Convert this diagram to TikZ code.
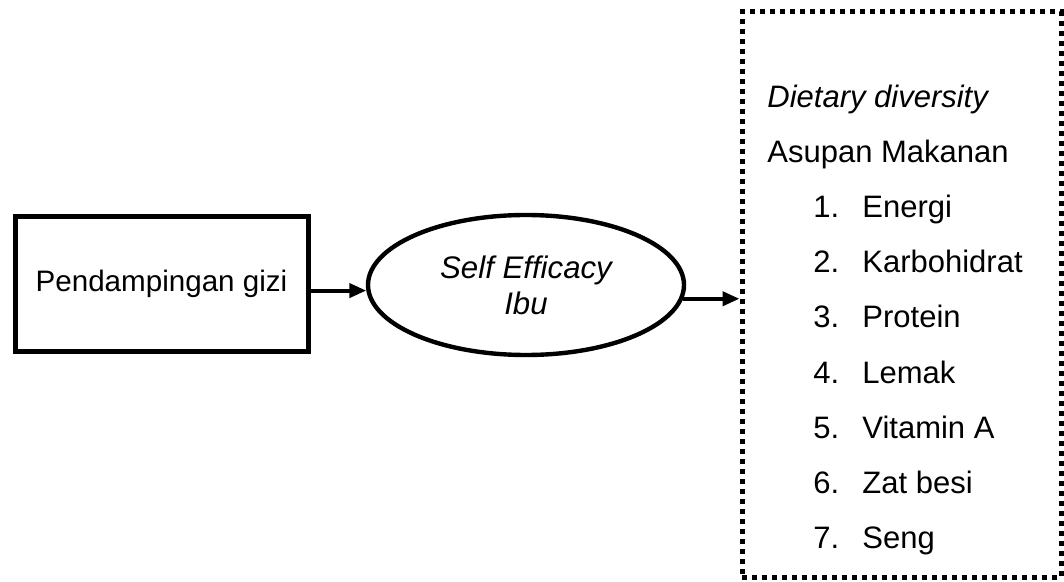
\documentclass[tikz,border=0pt]{standalone}
\usepackage{fontspec}
\setmainfont{Liberation Sans}
\usetikzlibrary{shapes.geometric,arrows.meta}

\begin{document}
\begin{tikzpicture}[x=0.5pt,y=-0.5pt,>={Triangle[length=8.5pt,width=7pt]},
    font=\fontsize{15.5pt}{16pt}\selectfont,
    gizi box/.style={rectangle,draw,line width=2.5pt,minimum width=146.5pt,minimum height=67pt,inner sep=0pt,font=\fontsize{14.8pt}{16pt}\selectfont},
    efficacy node/.style={ellipse,draw,line width=2.2pt,minimum width=158pt,minimum height=70pt,inner sep=0pt,align=center,font=\fontsize{15.6pt}{18pt}\selectfont\itshape},
    diet box/.style={rectangle,draw,line width=2.5pt,dash pattern=on 2.5pt off 2.5pt,minimum width=159.5pt,minimum height=282.5pt,inner sep=0pt},
    arr/.style={->,line width=2pt},
    item/.style={anchor=base west,inner sep=0pt}]

                \useasboundingbox (0,0) rectangle (1064,582);

                \node[gizi box] (pg) at (161.5,284) {Pendampingan gizi};
                \node[efficacy node] (se) at (526,285) {Self Efficacy\\Ibu};
                \node[diet box] (dd) at (901.5,294.5) {};

                \node[item] (title) at (767,108) {\itshape Dietary diversity};
                \node[item] (intake) at (767,163) {Asupan Makanan};
                \foreach \txt [count=\i] in {Energi,Karbohidrat,Protein,Lemak,Vitamin A,Zat besi,Seng}{
                    \node[item] (n\i) at (813,163+55*\i) {\i.};
                    \node[item] (t\i) at (862,163+55*\i) {\txt};
                }

                \draw[arr] (pg.east |- se.182) -- (se.182);
                \draw[arr] (se.-5) -- (se.-5 -| dd.west);
            \end{tikzpicture}
\end{document}
